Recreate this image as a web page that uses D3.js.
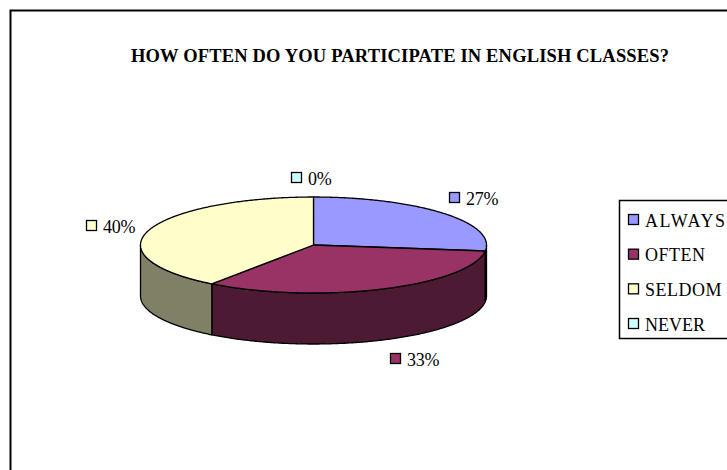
<!DOCTYPE html>
<html><head><meta charset="utf-8">
<script src="https://cdn.jsdelivr.net/npm/d3@7/dist/d3.min.js"></script>
<style>html,body{margin:0;padding:0;background:#fff}svg{display:block}text{font-family:"Liberation Serif","Times New Roman",serif;fill:#000}</style>
</head><body><div id="c"></div>
<script>
const categories = ["ALWAYS","OFTEN","SELDOM","NEVER"];
const values = [27,33,40,0];
const labels = ["27%","33%","40%","0%"];
const topColors = ["#9999ff","#993366","#ffffcc","#ccffff"];
const sideColors = ["#4d4d80","#4d1a33","#808066","#668080"];
const titleText = "HOW OFTEN DO YOU PARTICIPATE IN ENGLISH CLASSES?";

const W=727,H=470,cx=313.5,cy=245,rx=173,ry=48,depth=51;
const svg=d3.select("#c").append("svg").attr("width",W).attr("height",H);
svg.append("rect").attr("x",10.5).attr("y",10.5).attr("width",W+20).attr("height",H+20)
  .attr("fill","#fff").attr("stroke","#000").attr("stroke-width",2);

svg.append("text").attr("x",131).attr("y",62).attr("font-size",18.5).attr("font-weight","bold")
  .attr("textLength",538).attr("lengthAdjust","spacing").text(titleText);

const pie=d3.pie().sort(null).value(d=>d).startAngle(0).endAngle(2*Math.PI);
const arcs=pie(values);
const X=d3.scaleLinear().domain([-1,1]).range([cx-rx,cx+rx]);
const Y=d3.scaleLinear().domain([-1,1]).range([cy-ry,cy+ry]);
const px=a=>X(Math.sin(a)), py=a=>Y(-Math.cos(a));
const sample=(a0,a1)=>{const n=Math.max(2,Math.ceil((a1-a0)/0.01));return d3.range(n+1).map(i=>a0+(a1-a0)*i/n);};
const line=d3.line();

// side walls: the part of each slice's rim on the front half of the ellipse
const g=svg.append("g").attr("stroke","#000").attr("stroke-width",1.3).attr("stroke-linejoin","round");
arcs.forEach((d,i)=>{
  const a0=Math.max(d.startAngle,Math.PI/2),a1=Math.min(d.endAngle,3*Math.PI/2);
  if(a1<=a0)return;
  const s=sample(a0,a1);
  const pts=s.map(a=>[px(a),py(a)]).concat(s.slice().reverse().map(a=>[px(a),py(a)+depth]));
  g.append("path").attr("d",line(pts)+"Z").attr("fill",sideColors[i]);
});
// top faces
arcs.forEach((d,i)=>{
  if(d.endAngle-d.startAngle<=0)return;
  const pts=[[cx,cy]].concat(sample(d.startAngle,d.endAngle).map(a=>[px(a),py(a)]));
  g.append("path").attr("d",line(pts)+"Z").attr("fill",topColors[i]);
});

// data labels
const labelPos=[[449,192],[390,353],[86,220],[291,172]];
const swatch=(sel,x,y,c)=>sel.append("rect").attr("x",x+.5).attr("y",y+.5).attr("width",10).attr("height",10)
  .attr("fill",c).attr("stroke","#000").attr("stroke-width",1.3);
labels.forEach((t,i)=>{
  const [x,y]=labelPos[i];
  swatch(svg,x,y,topColors[i]);
  svg.append("text").attr("x",x+17).attr("y",y+13).attr("font-size",18).attr("letter-spacing",-0.2).text(t);
});

// legend
svg.append("rect").attr("x",619.5).attr("y",200.5).attr("width",W).attr("height",138)
  .attr("fill","#fff").attr("stroke","#000").attr("stroke-width",1.5);
const ly=d3.scalePoint().domain(categories).range([214,318]);
const legendTracking=[1.6,0.5,0.5,0];
categories.forEach((c,i)=>{
  swatch(svg,628,ly(c),topColors[i]);
  svg.append("text").attr("x",645).attr("y",ly(c)+12.5).attr("font-size",18).attr("letter-spacing",legendTracking[i]).text(c);
});
</script></body></html>
